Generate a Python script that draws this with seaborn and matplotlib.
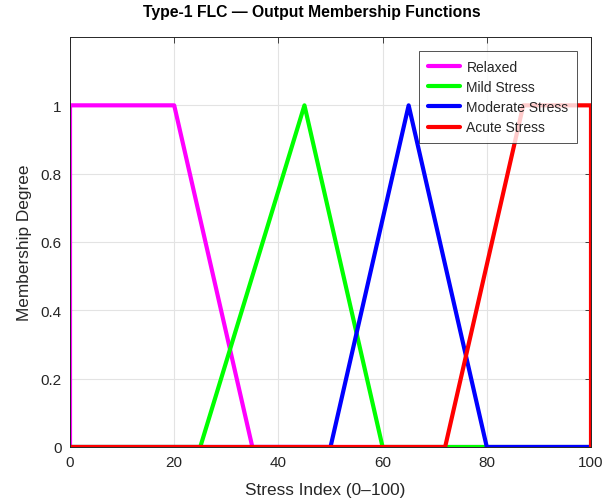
import matplotlib
matplotlib.use("Agg")
import matplotlib.pyplot as plt
import seaborn as sns
import pandas as pd

sns.set_theme(style="white")
plt.rcParams['font.family'] = ['Liberation Sans', 'DejaVu Sans']

names = ["Relaxed", "Mild Stress", "Moderate Stress", "Acute Stress"]
colors = ["#ff00ff", "#00ff00", "#0000ff", "#ff0000"]
relaxed_x = [0, 0, 20, 35, 100]
relaxed_y = [0, 1, 1, 0, 0]
mild_x = [0, 25, 45, 60, 100]
mild_y = [0, 0, 1, 0, 0]
moderate_x = [0, 50, 65, 80, 100]
moderate_y = [0, 0, 1, 0, 0]
acute_x = [0, 72, 87, 100, 100]
acute_y = [0, 0, 1, 1, 0]

xs = [relaxed_x, mild_x, moderate_x, acute_x]
ys = [relaxed_y, mild_y, moderate_y, acute_y]
rows = []
for n, xx, yy in zip(names, xs, ys):
    for a, b in zip(xx, yy):
        rows.append({"set": n, "x": a, "y": b})
df = pd.DataFrame(rows)

fig = plt.figure(figsize=(6.15, 5.02), dpi=100)
ax = fig.add_axes([70/615, 1-448/502, (591-70)/615, (448-38)/502])
sns.lineplot(data=df, x="x", y="y", hue="set", hue_order=names,
             palette=colors, sort=False, estimator=None, units="set",
             linewidth=3, ax=ax)

ax.set_xlim(0, 100)
ax.set_ylim(0, 1.2)
ax.set_xticks([0, 20, 40, 60, 80, 100])
ax.set_yticks([0, 0.2, 0.4, 0.6, 0.8, 1.0])
ax.set_yticklabels(["0", "0.2", "0.4", "0.6", "0.8", "1"])
ax.grid(True, color="#e3e3e3", linewidth=0.8)
ax.set_axisbelow(True)
ax.tick_params(direction="in", top=True, right=True, length=4, width=0.6,
               colors="#262626", labelsize=11, labelcolor="#262626", pad=6)
for s in ax.spines.values():
    s.set_visible(True)
    s.set_color("#262626")
    s.set_linewidth(0.7)
ax.set_xlabel("Stress Index (0–100)", fontsize=12.4, color="#262626", labelpad=8)
ax.xaxis.set_label_coords(0.49, -0.085)
ax.set_ylabel("Membership Degree", fontsize=12.4, color="#262626", labelpad=6)
ax.set_title("Type-1 FLC — Output Membership Functions", fontsize=11.3,
             fontweight="bold", color="#000000", pad=15, x=0.464)

leg = ax.legend(loc="upper right", bbox_to_anchor=(0.973, 0.965), frameon=True,
                fancybox=False, fontsize=10, handlelength=2.3, borderpad=0.6,
                labelspacing=0.45, handletextpad=0.5, borderaxespad=0)
leg.get_frame().set_edgecolor("#262626")
leg.get_frame().set_linewidth(0.7)
for line in leg.get_lines():
    line.set_linewidth(3)

fig.savefig("out.png", dpi=100)
